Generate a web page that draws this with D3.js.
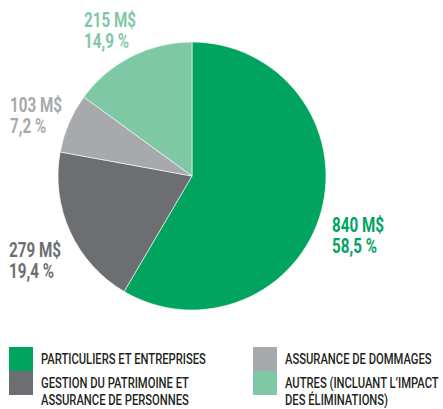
<!DOCTYPE html>
<html lang="fr">
<head>
    <meta charset="UTF-8">
    <script src="https://d3js.org/d3.v7.min.js"></script>
    <title>Répartition</title>
    <style>
        body { margin: 0; background: #fff; }
        svg text { font-family: Roboto, "Noto Sans", sans-serif; }
    </style>
</head>
<body>
    <div id="app"></div>
    <script>
        const svg_width = 443;
        const svg_height = 409;

        // donnees
        var categories = ['PARTICULIERS ET ENTREPRISES', 'GESTION DU PATRIMOINE ET ASSURANCE DE PERSONNES',
            'ASSURANCE DE DOMMAGES', 'AUTRES (INCLUANT L\u2019IMPACT DES ÉLIMINATIONS)'];
        var values = [840, 279, 103, 215];
        var percents = ['58,5 %', '19,4 %', '7,2 %', '14,9 %'];
        var colors = ['#00a45f', '#6d6e71', '#a7a9ac', '#7fc8a6'];

        var legend_lines = [
            ['PARTICULIERS ET ENTREPRISES'],
            ['GESTION DU PATRIMOINE ET', 'ASSURANCE DE PERSONNES'],
            ['ASSURANCE DE DOMMAGES'],
            ['AUTRES (INCLUANT L\u2019IMPACT', 'DES ÉLIMINATIONS)']
        ];

        var cx = 192, cy = 176, radius = 134;
        var narrow = 0.725; // police condensée simulée

        var svg = d3.select('#app')
            .append('svg')
            .attr('width', svg_width)
            .attr('height', svg_height);

        var pie = d3.pie().sort(null).value(function (d) { return d; });
        var arc = d3.arc().innerRadius(0).outerRadius(radius);

        svg.append('g')
            .attr('transform', 'translate(' + cx + ',' + cy + ')')
            .selectAll('path')
            .data(pie(values))
            .enter()
            .append('path')
            .attr('d', arc)
            .attr('fill', function (d, i) { return colors[i]; })
            .attr('stroke', '#fff')
            .attr('stroke-width', 0.6);

        // etiquettes
        var label_pos = [[332, 232], [9, 257], [10, 112], [84, 27]];
        var labels = svg.append('g')
            .selectAll('g')
            .data(values)
            .enter()
            .append('g')
            .attr('transform', function (d, i) {
                return 'translate(' + label_pos[i][0] + ',' + label_pos[i][1] + ') scale(0.78,1)';
            })
            .attr('fill', function (d, i) { return colors[i]; })
            .style('font-size', '19.5px')
            .style('font-weight', 'bold');
        labels.append('text').text(function (d) { return d + ' M$'; });
        labels.append('text')
            .attr('y', 21)
            .text(function (d, i) { return percents[i]; });

        // legende
        var legend_pos = [[9, 347], [9, 371], [253, 347], [253, 371]];
        var legend = svg.append('g')
            .selectAll('g')
            .data(categories)
            .enter()
            .append('g')
            .attr('transform', function (d, i) { return 'translate(' + legend_pos[i][0] + ',' + legend_pos[i][1] + ')'; });

        legend.append('rect')
            .attr('width', 24)
            .attr('height', 24)
            .attr('fill', function (d, i) { return colors[i]; });

        var lt = legend.append('text')
            .attr('transform', 'translate(32,17) scale(' + narrow + ',1)')
            .attr('fill', '#231f20')
            .style('font-size', '15.5px')
            .style('font-weight', 500);
        lt.selectAll('tspan')
            .data(function (d, i) { return legend_lines[i]; })
            .enter()
            .append('tspan')
            .attr('x', 0)
            .attr('dy', function (d, j) { return j === 0 ? 0 : 17; })
            .text(function (d) { return d; });
    </script>
</body>
</html>
